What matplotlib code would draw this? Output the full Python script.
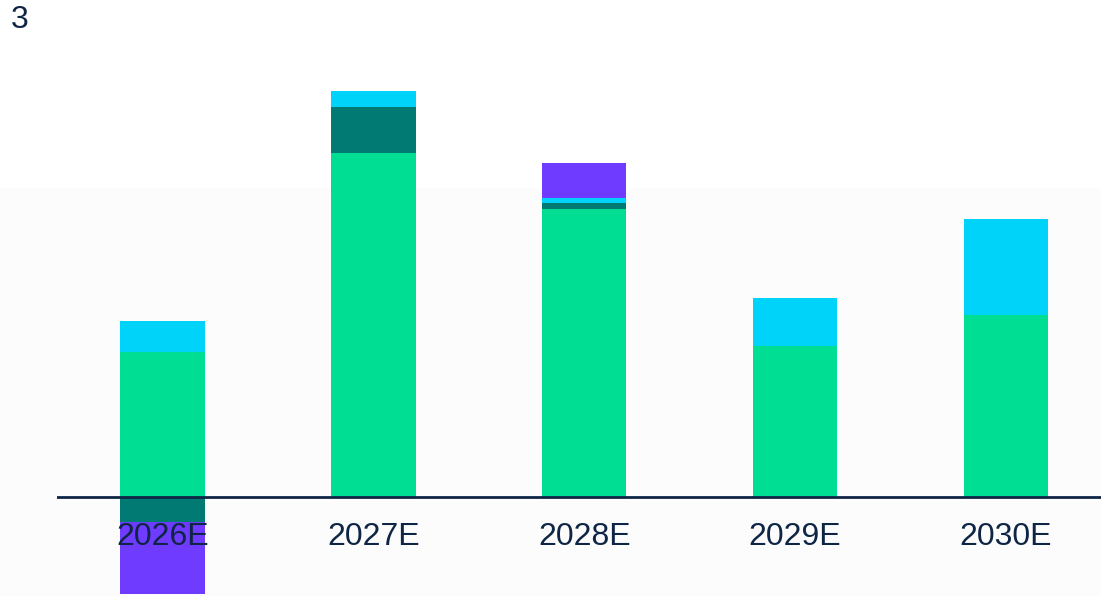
import matplotlib.pyplot as plt
import matplotlib.patches as mpatches
import numpy as np

plt.rcParams['font.family'] = ['Liberation Sans', 'DejaVu Sans']

# データ（単位は任意、ベースライン基準）
years = ['2026E', '2027E', '2028E', '2029E', '2030E']
green = [14.5, 34.4, 28.8, 15.1, 18.2]
teal = [-2.5, 4.6, 0.6, 0.0, 0.0]
cyan = [3.1, 1.6, 0.5, 4.8, 9.6]
purple = [-7.2, 0.0, 3.5, 0.0, 0.0]

series = [green, teal, cyan, purple]
colors = ['#00DE94', '#007A73', '#00D3F9', '#6E3BFF']
text_color = '#0F2545'

fig = plt.figure(figsize=(11.01, 5.96), dpi=100)
fig.patch.set_facecolor('white')
# 下側の薄いグレー背景
fig.patches.append(mpatches.Rectangle((0, 0), 1, (596 - 188) / 596, transform=fig.transFigure,
                                      facecolor='#FCFCFC', edgecolor='none', zorder=-5))

ax = fig.add_axes([57 / 1101, 0, 1 - 57 / 1101, 1])
ax.set_facecolor('none')
ax.set_zorder(1)

x = np.arange(len(years))
pos_base = np.zeros(len(years))
neg_base = np.zeros(len(years))
for vals, c in zip(series, colors):
    vals = np.array(vals)
    pos = np.where(vals > 0, vals, 0)
    neg = np.where(vals < 0, vals, 0)
    ax.bar(x, pos, bottom=pos_base, width=0.4, color=c, edgecolor='none', zorder=2)
    ax.bar(x, neg, bottom=neg_base, width=0.4, color=c, edgecolor='none', zorder=2)
    pos_base += pos
    neg_base += neg

ax.axhline(0, color=text_color, linewidth=2, zorder=3)
ax.set_xlim(-0.5, 4.45)
ax.set_ylim(-9.9, 49.7)

for xi, lab in zip(x, years):
    ax.text(xi, -4.0, lab, ha='center', va='center', fontsize=23, color=text_color, zorder=4)

for s in ax.spines.values():
    s.set_visible(False)
ax.set_xticks([])
ax.set_yticks([])

fig.text(11 / 1101, 1 - 20 / 596, '3', ha='left', va='center', fontsize=23, color=text_color)

plt.savefig('out.png', dpi=100)
plt.close()
